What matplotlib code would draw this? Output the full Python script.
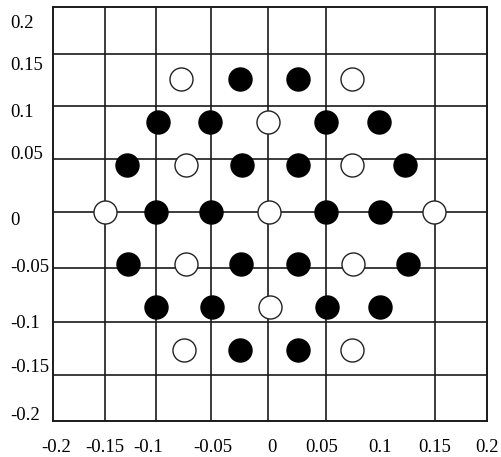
import matplotlib
matplotlib.use("Agg")
import matplotlib.pyplot as plt

# Grid line positions
grid_x = [-0.152, -0.105, -0.055, -0.002, 0.051, 0.101, 0.152]
grid_y = [0.154, 0.104, 0.053, 0.002, -0.052, -0.105, -0.156]

# Tick label positions and texts
xlabel_pos = [-0.197, -0.153, -0.113, -0.053, 0.0015, 0.0475, 0.101, 0.151, 0.2]
xlabel_txt = ["-0.2", "-0.15", "-0.1", "-0.05", "0", "0.05", "0.1", "0.15", "0.2"]
ylabel_pos = [0.186, 0.145, 0.100, 0.059, -0.005, -0.050, -0.104, -0.147, -0.193]
ylabel_txt = ["0.2", "0.15", "0.1", "0.05", "0", "-0.05", "-0.1", "-0.15", "-0.2"]

# Filled (black) points
filled_x = [-0.028, 0.025,
            -0.104, -0.056, 0.051, 0.100,
            -0.132, -0.026, 0.025, 0.124,
            -0.105, -0.055, 0.051, 0.101,
            -0.131, -0.027, 0.025, 0.127,
            -0.105, -0.054, 0.052, 0.101,
            -0.028, 0.025]
filled_y = [0.130, 0.130,
            0.089, 0.089, 0.089, 0.089,
            0.047, 0.047, 0.047, 0.047,
            0.002, 0.002, 0.002, 0.002,
            -0.049, -0.049, -0.049, -0.049,
            -0.090, -0.090, -0.090, -0.090,
            -0.132, -0.132]

# Open (white) points
open_x = [-0.082, 0.075,
          -0.002,
          -0.078, 0.075,
          -0.152, -0.001, 0.151,
          -0.078, 0.076,
          0.000,
          -0.080, 0.075]
open_y = [0.130, 0.130,
          0.089,
          0.047, 0.047,
          0.002, 0.002, 0.002,
          -0.049, -0.049,
          -0.090,
          -0.132, -0.132]

plt.rcParams['font.family'] = ['Liberation Serif', 'DejaVu Serif']

fig = plt.figure(figsize=(5.02, 4.57), dpi=100)
ax = fig.add_axes([53.3 / 502, 1 - 420.7 / 457, (487.5 - 53.3) / 502, (420.7 - 6.7) / 457])
ax.set_xlim(-0.2, 0.2)
ax.set_ylim(-0.2, 0.2)

line_color = '#1a1a1a'
ax.set_xticks(grid_x, minor=True)
ax.set_yticks(grid_y, minor=True)
ax.grid(which='minor', color=line_color, linewidth=1.2)
ax.tick_params(which='minor', length=0)

ax.set_xticks(xlabel_pos)
ax.set_xticklabels(xlabel_txt)
ax.set_yticks(ylabel_pos)
ax.set_yticklabels(ylabel_txt)
ax.tick_params(which='major', length=0, labelsize=13.5, colors='black')
ax.tick_params(axis='x', which='major', pad=13)
ax.tick_params(axis='y', which='major', pad=31)
for lab in ax.get_yticklabels():
    lab.set_horizontalalignment('left')

for s in ax.spines.values():
    s.set_color(line_color)
    s.set_linewidth(1.4)

ax.set_axisbelow(True)
ax.scatter(filled_x, filled_y, s=275, facecolor='black', edgecolor='black', linewidths=1.0, zorder=3)
ax.scatter(open_x, open_y, s=275, facecolor='white', edgecolor='#222222', linewidths=1.0, zorder=3)

fig.savefig("out.png", dpi=100)
